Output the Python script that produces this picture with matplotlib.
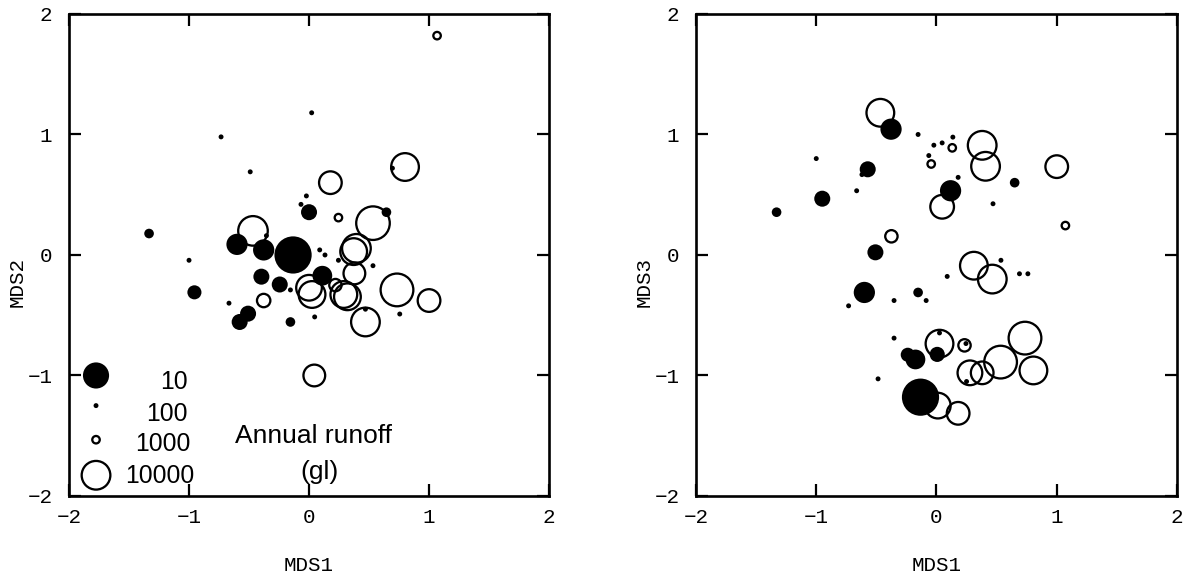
import numpy as np
import matplotlib.pyplot as plt

# site scores, left panel (MDS1 vs MDS2) and annual runoff (gl)
mds1_a = [0.80, 0.178, 0.533, -0.467, 0.395, 0.372, 0.378, 0.0, 0.025, 0.29, 0.32,
          0.733, 1.0, 0.47, 0.044, 1.067, 0.245, -0.378, 0.22,
          0.0, 0.645, -1.333, -0.6, -0.378, -0.133, -0.397, -0.244, 0.111, -0.955,
          -0.508, -0.578, -0.155,
          0.022, -0.733, -0.49, 0.695, -0.022, -0.067, -0.355, 0.089, 0.133, -1.0,
          0.245, 0.533, -0.155, -0.667, 0.047, 0.47, 0.756]
mds2_a = [0.73, 0.60, 0.264, 0.2, 0.055, 0.028, -0.153, -0.272, -0.328, -0.328, -0.347,
          -0.29, -0.378, -0.556, -1.0, 1.82, 0.31, -0.378, -0.25,
          0.355, 0.355, 0.178, 0.088, 0.042, 0.0, -0.18, -0.245, -0.172, -0.31,
          -0.487, -0.556, -0.556,
          1.18, 0.98, 0.69, 0.72, 0.49, 0.42, 0.16, 0.042, 0.0, -0.044,
          -0.044, -0.089, -0.29, -0.4, -0.514, -0.45, -0.49]
runoff_a = [9000, 5200, 17000, 11000, 10000, 8100, 4700, 7200, 8100, 8100, 8100,
            15500, 5200, 10000, 4700, 1000, 1000, 1900, 1700,
            30, 60, 60, 17, 17, 3, 30, 30, 20, 37,
            30, 30, 60,
            100, 100, 100, 100, 100, 100, 100, 100, 100, 100,
            100, 100, 100, 100, 100, 100, 100]

# right panel (MDS1 vs MDS3)
mds1_b = [-0.467, 0.38, 0.408, 1.0, 0.047, 0.311, 0.464, 0.025, 0.736, 0.533, 0.806,
          0.38, 0.278, 0.011, 0.18, 0.131, -0.044, 1.072, -0.375, 0.233,
          -0.378, -0.572, -0.95, -1.33, 0.117, 0.65, -0.508, -0.6, -0.153, 0.006,
          -0.239, -0.175, -0.133,
          -1.0, -0.62, -0.664, -0.153, -0.022, 0.047, 0.136, -0.064, 0.18, 0.47,
          0.536, 0.69, 0.76, 0.089, -0.353, -0.086, -0.731, -0.353, 0.025, 0.245,
          0.25, -0.486]
mds3_b = [1.18, 0.91, 0.736, 0.733, 0.4, -0.089, -0.2, -0.736, -0.69, -0.889, -0.958,
          -0.978, -0.978, -1.25, -1.314, 0.889, 0.755, 0.244, 0.155, -0.75,
          1.044, 0.711, 0.467, 0.355, 0.533, 0.6, 0.022, -0.311, -0.311, -0.825,
          -0.828, -0.867, -1.18,
          0.8, 0.667, 0.533, 1.0, 0.911, 0.93, 0.978, 0.825, 0.644, 0.425,
          -0.044, -0.156, -0.156, -0.178, -0.378, -0.378, -0.422, -0.69, -0.647, -0.735,
          -1.05, -1.028]
runoff_b = [9000, 10000, 10000, 5200, 5800, 9000, 10000, 9000, 15500, 15500, 9000,
            5200, 6500, 7200, 5200, 1000, 1000, 1000, 1700, 1700,
            17, 30, 30, 60, 17, 60, 30, 17, 60, 33,
            37, 20, 3,
            100, 100, 100, 100, 100, 100, 100, 100, 100, 100,
            100, 100, 100, 100, 100, 100, 100, 100, 100, 100,
            100, 100]

legend_runoff = [10, 100, 1000, 10000]
legend_labels = ['10', '100', '1000', '10000']

CENTRE = 2.44  # log10 runoff: below -> filled, above -> open
PX2PT = 0.72


def marker_area(q):
    d = np.abs(np.log10(q) - CENTRE)
    r = np.maximum(10.6 * d - 2.2, 1.5) * PX2PT
    return (2 * r) ** 2


def bubbles(ax, x, y, q):
    x, y, q = np.asarray(x), np.asarray(y), np.asarray(q, dtype=float)
    s = marker_area(q)
    wet = np.log10(q) > CENTRE
    ax.scatter(x[wet], y[wet], s=s[wet], facecolors='none', edgecolors='black',
               linewidths=1.65, zorder=3)
    ax.scatter(x[~wet], y[~wet], s=s[~wet], c='black', linewidths=0, zorder=4)


def style(ax, ylab):
    ax.set_xlim(-2, 2)
    ax.set_ylim(-2, 2)
    ax.set_xticks([-2, -1, 0, 1, 2])
    ax.set_yticks([-2, -1, 0, 1, 2])
    ax.tick_params(direction='in', length=8.5, width=1.6, top=True, right=True,
                   labelsize=15)
    ax.tick_params(axis='x', pad=9)
    ax.tick_params(axis='y', pad=12)
    for lab in ax.get_xticklabels() + ax.get_yticklabels():
        lab.set_family('Liberation Mono')
    for sp in ax.spines.values():
        sp.set_linewidth(1.9)
    ax.set_xlabel('MDS1', family='Liberation Mono', fontsize=15)
    ax.set_ylabel(ylab, family='Liberation Mono', fontsize=15)
    ax.xaxis.set_label_coords(0.5, -0.125)
    ax.yaxis.set_label_coords(-0.088, 0.444)


fig = plt.figure(figsize=(11.92, 5.77), dpi=100)
ax1 = fig.add_axes([0.0579, 0.1404, 0.4027, 0.8354])
ax2 = fig.add_axes([0.5839, 0.1404, 0.4035, 0.8354])

bubbles(ax1, mds1_a, mds2_a, runoff_a)
bubbles(ax2, mds1_b, mds3_b, runoff_b)
style(ax1, 'MDS2')
style(ax2, 'MDS3')

# size key
key_y = [-1.0, -1.25, -1.533, -1.828]
bubbles(ax1, [-1.775] * 4, key_y, legend_runoff)
key_tx = [-1.01, -1.01, -0.985, -0.955]
key_ty = [-1.05, -1.32, -1.565, -1.835]
for lab, tx, ty in zip(legend_labels, key_tx, key_ty):
    ax1.text(tx, ty, lab, ha='right', va='center', fontsize=17.8,
             family='Liberation Sans')
ax1.text(0.035, -1.5, 'Annual runoff', ha='center', va='center', fontsize=19,
         family='Liberation Sans')
ax1.text(0.09, -1.8, '(gl)', ha='center', va='center', fontsize=19,
         family='Liberation Sans')

fig.savefig('out.png', dpi=100)
